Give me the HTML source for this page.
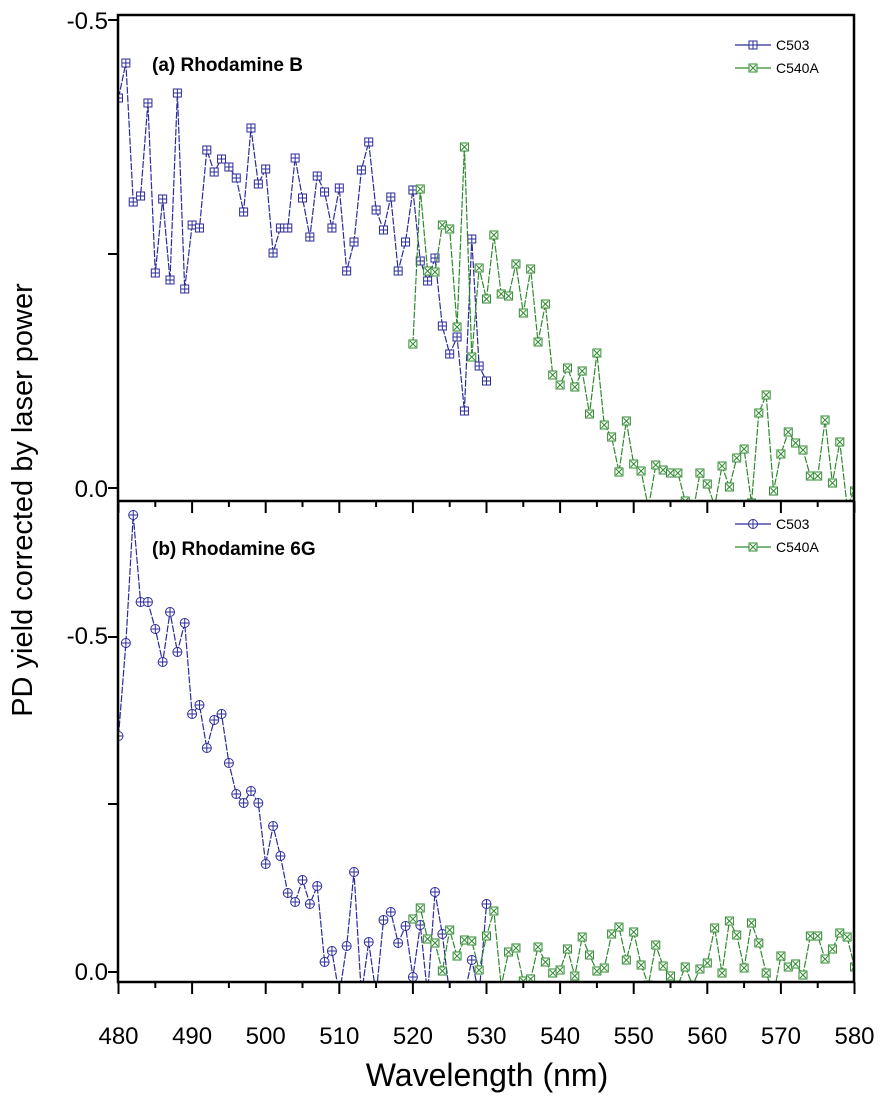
<!DOCTYPE html>
<html><head><meta charset="utf-8"><style>
body{margin:0;background:#fff}
svg text{font-family:"Liberation Sans",Arial,sans-serif}
</style></head><body>
<svg id="s" width="888" height="1097" xmlns="http://www.w3.org/2000/svg">
<defs>
<clipPath id="ct"><rect x="118" y="15" width="736" height="486"/></clipPath>
<clipPath id="cb"><rect x="118" y="501" width="736" height="481"/></clipPath>
</defs>
<g id="g"></g>
<rect x="118" y="15" width="736" height="967" fill="none" stroke="#000" stroke-width="2.5"/>
<line x1="118" y1="501" x2="854" y2="501" stroke="#000" stroke-width="2.5"/>
<g font-size="24" text-anchor="end" fill="#000">
<text x="108" y="29">-0.5</text>
<text x="108" y="497">0.0</text>
<text x="108" y="644">-0.5</text>
<text x="108" y="980">0.0</text>
</g>
<g font-size="24" text-anchor="middle" id="xl"></g>
<text x="487" y="1086" font-size="32" text-anchor="middle">Wavelength (nm)</text>
<text transform="translate(32,500) rotate(-90)" font-size="29" text-anchor="middle">PD yield corrected by laser power</text>
<text x="152" y="71" font-size="19" font-weight="bold">(a) Rhodamine B</text>
<text x="152" y="555" font-size="19" font-weight="bold">(b) Rhodamine 6G</text>
<g font-size="14">
<text x="776" y="50">C503</text><text x="776" y="73">C540A</text>
<text x="776" y="529">C503</text><text x="776" y="552">C540A</text>
</g>
</svg>
<script>
var B="#2b2b9c",G="#2f8a2f",ns="http://www.w3.org/2000/svg",g=document.getElementById('g');
function X(k){return 118.5+7.36*k;}
function el(t,a,p){var e=document.createElementNS(ns,t);for(var k in a)e.setAttribute(k,a[k]);(p||g).appendChild(e);return e;}
function mk(x,y,type,c,p){
 if(type=="c"){el('circle',{cx:x,cy:y,r:4.5,fill:'#fff',stroke:c,'stroke-width':1},p);}
 else el('rect',{x:x-4,y:y-4,width:8,height:8,fill:'#fff',stroke:c,'stroke-width':1},p);
 if(type=="x"){el('path',{d:'M'+(x-3)+' '+(y-3)+'L'+(x+3)+' '+(y+3)+'M'+(x+3)+' '+(y-3)+'L'+(x-3)+' '+(y+3),stroke:c,'stroke-width':1},p);}
 else {el('path',{d:'M'+(x-4)+' '+y+'L'+(x+4)+' '+y+'M'+x+' '+(y-4)+'L'+x+' '+(y+4),stroke:c,'stroke-width':1},p);}
}
function series(off,ys,type,c,clip){
 var p=el('g',{'clip-path':'url(#'+clip+')'});var d='';
 ys.forEach(function(y,i){d+=(i?'L':'M')+X(off+i).toFixed(1)+' '+y;});
 el('path',{d:d,fill:'none',stroke:c,'stroke-width':1.2,'stroke-dasharray':'7 1.5'},p);
 ys.forEach(function(y,i){mk(X(off+i),y,type,c,p);});
}
var a1=[98,63,202,196,103,273,199,280,93,289,225,228,150,172,159,167,178,212,128,184,169,253,228,228,158,198,237,176,192,228,188,271,242,170,142,210,230,197,271,242,190,261,281,258,326,354,337,411,239,366,381];
var a2=[344,189,271,272,225,229,327,147,357,268,299,235,294,296,264,313,269,342,304,375,385,368,387,371,414,353,425,437,472,421,464,471,508,465,470,473,473,501,515,473,484,506,466,487,458,449,503,413,395,491,454,432,443,450,476,476,420,483,442,506,491];
var b1=[736,643,515,602,602,629,662,612,652,623,714,705,748,720,714,763,794,803,791,803,864,826,856,893,902,880,904,886,962,951,995,946,872,995,942,995,920,912,943,926,977,925,995,892,934,995,995,995,960,995,904];
var b2=[919,908,939,943,971,930,956,940,941,970,936,911,986,952,948,981,979,947,962,973,970,949,976,937,955,971,968,934,927,960,932,965,985,945,966,976,985,967,985,969,963,928,973,921,935,968,923,943,973,995,956,967,964,975,936,936,959,949,933,937,967];
series(0,a1,'p',B,'ct');series(40,a2,'x',G,'ct');
series(0,b1,'c',B,'cb');series(40,b2,'x',G,'cb');
// legends
[[45,'p',B],[68,'x',G],[524,'c',B],[547,'x',G]].forEach(function(l){
 el('line',{x1:735,y1:l[0],x2:771,y2:l[0],stroke:l[2],'stroke-width':1.2});mk(753,l[0],l[1],l[2]);});
// ticks
var t=el('g',{stroke:'#000','stroke-width':2});
for(var i=0;i<=20;i++){var x=118.5+36.8*i,L=i%2?6:12;
 el('line',{x1:x,y1:501,x2:x,y2:501+L},t);el('line',{x1:x,y1:982,x2:x,y2:982+L},t);
 if(i%2==0){var tx=el('text',{x:x,y:1044},document.getElementById('xl'));tx.textContent=480+i*5;}}
[20,254,488,637,804,972].forEach(function(y){el('line',{x1:108,y1:y,x2:118,y2:y},t);});
</script>
</body></html>
